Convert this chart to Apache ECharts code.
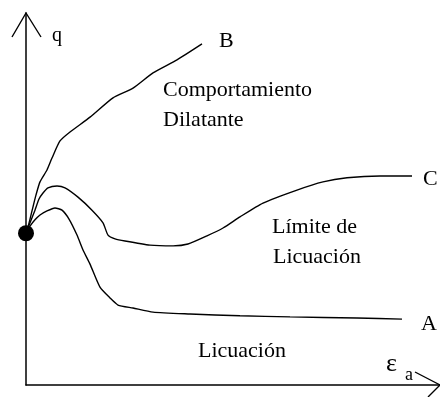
<!DOCTYPE html>
<html>
<head>
<meta charset="utf-8">
<script src="https://cdn.jsdelivr.net/npm/echarts@6/dist/echarts.min.js"></script>
<style>
html,body{margin:0;padding:0;background:#fff;}
#c{width:440px;height:397px;}
</style>
</head>
<body>
<div id="c"></div>
<script>
// Axial strain (εa) vs deviator stress (q), arbitrary units 0-100
var startPoint = [[0, 40.8]];
var curveB = [[0,40.8],[0.48,42.5],[0.97,44.6],[1.69,47.9],[2.42,51.1],[3.38,54.6],[5.07,57.8],[6.28,61.0],[8.21,65.6],[10.63,68.0],[15.46,72.0],[21.01,77.2],[25.85,79.8],[30.68,83.9],[36.47,87.4],[42.51,91.7]];
var curveC = [[0,40.8],[0.97,43.6],[2.17,47.0],[3.14,50.0],[4.11,51.6],[5.31,53.0],[7.49,53.5],[9.42,53.0],[12.56,50.5],[15.94,47.0],[18.6,43.6],[19.81,40.3],[21.5,39.3],[23.91,38.7],[29.95,37.6],[35.51,37.4],[39.13,37.9],[43.72,40.1],[47.59,42.2],[51.69,45.2],[57.25,48.9],[65.46,52.4],[71.74,54.6],[77.54,55.7],[85.51,56.2],[93.24,56.2]];
var curveA = [[0,40.8],[0.97,42.7],[2.17,44.4],[3.38,45.7],[5.07,46.8],[7.0,47.6],[8.7,47.0],[10.39,44.6],[12.32,40.3],[13.77,36.3],[15.46,32.5],[17.87,26.3],[20.29,23.4],[22.22,21.5],[25.85,20.7],[30.68,19.6],[39.61,19.1],[51.69,18.6],[63.77,18.3],[79.95,18.0],[90.82,17.7]];
var curveNames = ['B', 'C', 'A'];
var regionTexts = ['Comportamiento', 'Dilatante', 'Límite de', 'Licuación', 'Licuación'];
var axisNames = ['q', 'ε', 'a'];

var chart = echarts.init(document.getElementById('c'), null, {renderer: 'canvas'});
var FONT = '"Liberation Serif", "DejaVu Serif", serif';
var lineStyle = {color: '#000', width: 1.4};
function txt(t, x, cy, size) {
  return {type: 'text', left: x, top: cy - size / 2, style: {text: t, fontFamily: FONT, fontSize: size, fill: '#000'}};
}
var option = {
  backgroundColor: '#fff',
  animation: false,
  grid: {left: 26, right: 0, top: 13, bottom: 12, containLabel: false},
  xAxis: {type: 'value', min: 0, max: 100, axisLine: {show: true, lineStyle: {color: '#000', width: 1.5}}, axisTick: {show: false}, axisLabel: {show: false}, splitLine: {show: false}},
  yAxis: {type: 'value', min: 0, max: 100, axisLine: {show: true, lineStyle: {color: '#000', width: 1.5}}, axisTick: {show: false}, axisLabel: {show: false}, splitLine: {show: false}},
  series: [
    {type: 'line', data: curveB, symbol: 'none', smooth: 0.2, lineStyle: lineStyle},
    {type: 'line', data: curveC, symbol: 'none', smooth: 0.2, lineStyle: lineStyle},
    {type: 'line', data: curveA, symbol: 'none', smooth: 0.2, lineStyle: lineStyle},
    {type: 'scatter', data: startPoint, symbol: 'circle', symbolSize: 16, itemStyle: {color: '#000', opacity: 1}, z: 5}
  ],
  graphic: [
    {type: 'polyline', shape: {points: [[12, 37], [26, 13], [41, 37]]}, style: {stroke: '#000', lineWidth: 1.4, fill: null}},
    {type: 'polyline', shape: {points: [[415, 372], [440, 385], [428, 397]]}, style: {stroke: '#000', lineWidth: 1.4, fill: null}},
    txt(axisNames[0], 52, 36, 20),
    txt(curveNames[0], 219, 41, 22),
    txt(curveNames[1], 423, 179, 22),
    txt(curveNames[2], 421, 324, 22),
    txt(regionTexts[0], 163, 90, 22),
    txt(regionTexts[1], 163, 120, 22),
    txt(regionTexts[2], 272, 227, 22),
    txt(regionTexts[3], 273, 257, 22),
    txt(regionTexts[4], 198, 351, 22),
    txt(axisNames[1], 386, 364, 26),
    txt(axisNames[2], 405, 375, 18)
  ]
};
chart.setOption(option);
</script>
</body>
</html>
